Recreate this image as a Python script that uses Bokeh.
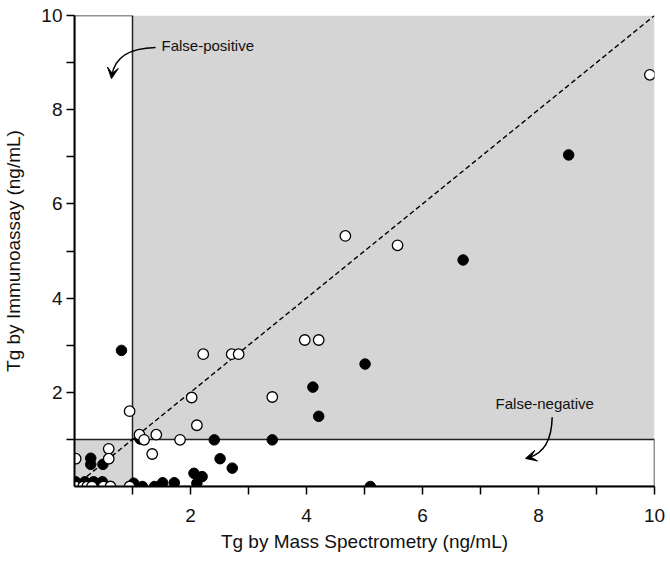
from bokeh.plotting import figure
from bokeh.models import Range1d, FixedTicker, Arrow, VeeHead, Label
from bokeh.embed import file_html
from bokeh.resources import INLINE

# ---- data ----
cutoff = 1.0
axis_max = 10.0

open_x = [9.92, 4.67, 5.57, 3.97, 4.21, 2.22, 2.71, 2.83, 3.41, 2.02, 0.95, 2.11,
          1.12, 1.41, 1.20, 1.82, 1.34, 0.02, 0.59, 0.59,
          0.02, 0.15, 0.22, 0.30, 0.50, 0.62, 0.95]
open_y = [8.74, 5.32, 5.12, 3.11, 3.11, 2.81, 2.81, 2.81, 1.90, 1.89, 1.60, 1.30,
          1.10, 1.10, 0.99, 0.99, 0.69, 0.59, 0.80, 0.59,
          0.0, 0.0, 0.0, 0.0, 0.0, 0.0, 0.0]

filled_x = [8.52, 6.70, 5.01, 4.11, 4.21, 0.81, 1.13, 2.41, 3.41, 2.51, 2.72, 2.06,
            2.20, 2.11, 0.28, 0.28, 0.49, 5.10,
            0.02, 0.18, 0.33, 0.48, 1.02, 1.17, 1.38, 1.52, 1.72]
filled_y = [7.04, 4.81, 2.60, 2.11, 1.49, 2.89, 1.01, 0.99, 0.99, 0.59, 0.39, 0.28,
            0.21, 0.07, 0.60, 0.47, 0.47, 0.0,
            0.10, 0.10, 0.10, 0.10, 0.07, 0.0, 0.0, 0.08, 0.08]

major_ticks = [2, 4, 6, 8, 10]
minor_ticks = [1, 3, 5, 7, 9]

x_title = "Tg by Mass Spectrometry (ng/mL)"
y_title = "Tg by Immunoassay (ng/mL)"

FONT = "Liberation Sans"
GRAY = "#d5d5d5"

p = figure(width=668, height=554,
           x_range=Range1d(0, axis_max), y_range=Range1d(0, axis_max),
           output_backend="svg", toolbar_location=None,
           min_border_left=0, min_border_right=14, min_border_top=15, min_border_bottom=0)
p.grid.visible = False
p.outline_line_color = None
p.background_fill_color = "white"

# shaded regions
p.quad(left=[cutoff], right=[axis_max], bottom=[cutoff], top=[axis_max],
       fill_color=GRAY, line_color=None)
p.quad(left=[0], right=[cutoff], bottom=[0], top=[cutoff],
       fill_color=GRAY, line_color=None)
# white boxes with outline
p.quad(left=[0], right=[cutoff], bottom=[cutoff], top=[axis_max],
       fill_color="white", line_color="#222222", line_width=1.5)
p.quad(left=[cutoff], right=[axis_max], bottom=[0], top=[cutoff],
       fill_color="white", line_color="#222222", line_width=1.5)

# identity line
p.line([0, axis_max], [0, axis_max], line_dash="5 3", line_color="black", line_width=1.4)

# points
p.scatter(filled_x, filled_y, size=10.5, fill_color="black", line_color="black", line_width=1)
p.scatter(open_x, open_y, size=10.5, fill_color="white", line_color="black", line_width=1.3)

# annotations
p.add_layout(Label(x=1.50, y=9.36, text="False-positive", text_baseline="middle",
                   text_font=FONT, text_font_size="15px", text_color="#111111"))
p.add_layout(Label(x=7.26, y=1.76, text="False-negative", text_baseline="middle",
                   text_font=FONT, text_font_size="15px", text_color="#111111"))

p.quadratic(x0=[1.397], y0=[9.319], x1=[0.645], y1=[8.72], cx=[0.707], cy=[9.298],
            line_color="black", line_width=1.5)
p.add_layout(Arrow(x_start=0.647, y_start=8.745, x_end=0.638, y_end=8.660,
                   line_color="black", line_width=1.5,
                   end=VeeHead(size=11, fill_color="black", line_color="black")))

p.quadratic(x0=[8.236], y0=[1.468], x1=[7.83], y1=[0.612], cx=[8.224], cy=[0.745],
            line_color="black", line_width=1.5)
p.add_layout(Arrow(x_start=7.842, y_start=0.617, x_end=7.776, y_end=0.596,
                   line_color="black", line_width=1.5,
                   end=VeeHead(size=11, fill_color="black", line_color="black")))

# axes
for ax in (p.xaxis[0], p.yaxis[0]):
    ax.ticker = FixedTicker(ticks=major_ticks, minor_ticks=minor_ticks)
    ax.axis_line_width = 2
    ax.axis_line_color = "black"
    ax.major_tick_in = 0
    ax.minor_tick_in = 0
    ax.major_tick_out = 8
    ax.minor_tick_out = 8
    ax.major_tick_line_width = 1.5
    ax.minor_tick_line_width = 1.5
    ax.major_tick_line_color = "black"
    ax.minor_tick_line_color = "black"
    ax.major_label_text_font = FONT
    ax.major_label_text_font_size = "19px"
    ax.major_label_text_color = "#111111"
    ax.axis_label_text_font = FONT
    ax.axis_label_text_font_size = "19px"
    ax.axis_label_text_font_style = "normal"
    ax.axis_label_text_color = "#111111"

p.xaxis.axis_label = x_title
p.yaxis.axis_label = y_title
p.xaxis.major_label_standoff = 14
p.xaxis.axis_label_standoff = 6
p.yaxis.major_label_standoff = 4
p.yaxis.axis_label_standoff = 14

open("out.html", "w").write(file_html(p, INLINE))
